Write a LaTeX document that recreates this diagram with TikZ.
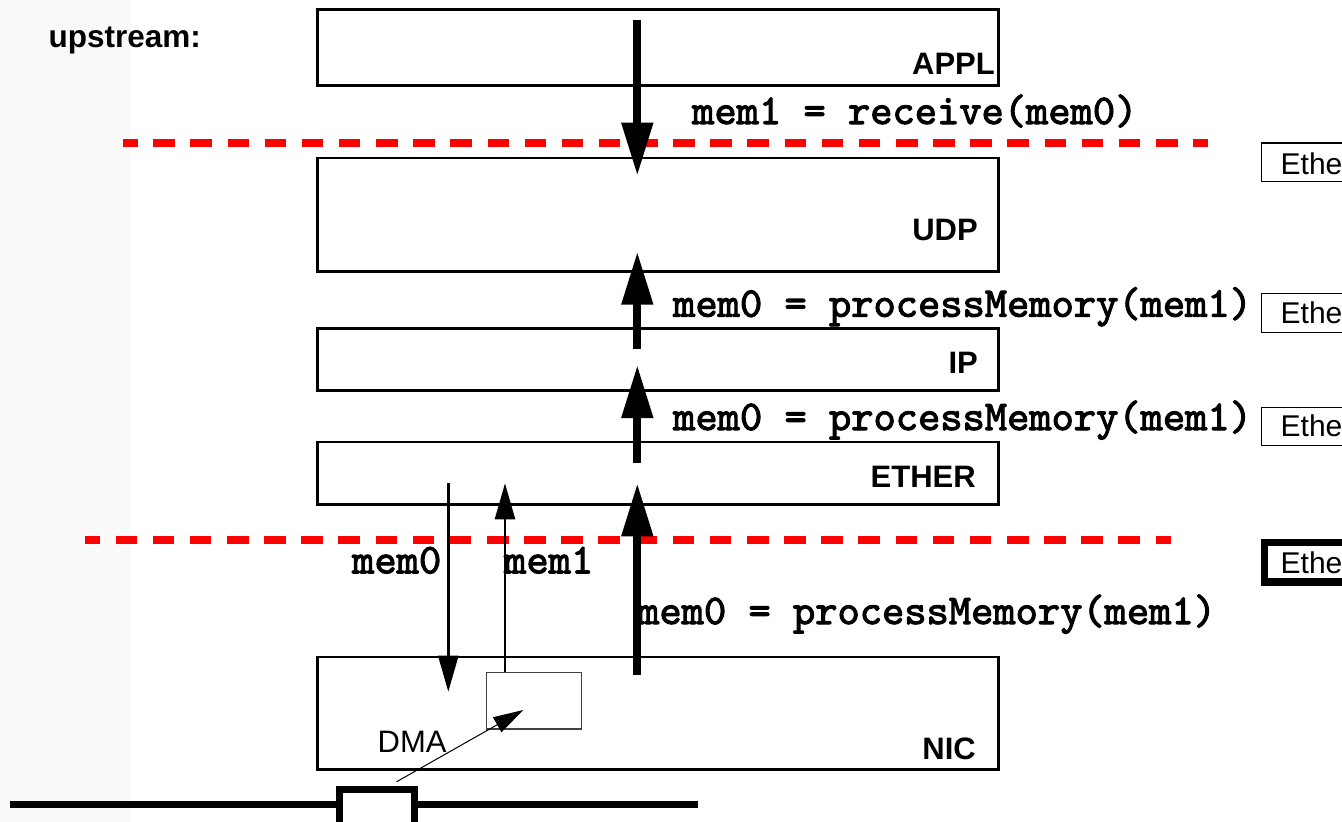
\documentclass[tikz,border=0pt]{standalone}
\usepackage{fontspec}
\setmainfont{Liberation Sans}
\newfontfamily\monob{lmmono10-regular.otf}[FakeBold=2.5]
\usetikzlibrary{arrows.meta}
\definecolor{strip}{RGB}{249,249,249}
\definecolor{redline}{RGB}{255,0,0}
\tikzset{
  layer/.style={draw=black, line width=2.5pt, fill=none, minimum width=681pt, anchor=north west, inner sep=0pt},
  lbl/.style={font=\fontsize{31}{36}\selectfont\bfseries, inner sep=0pt, anchor=base east},
  code/.style={font=\fontsize{42.4}{48}\selectfont\monob, inner sep=0pt, anchor=base west},
  plain/.style={font=\fontsize{31}{36}\selectfont, inner sep=0pt, anchor=base west},
  ethtext/.style={font=\fontsize{30}{34}\selectfont, inner sep=0pt, anchor=base west},
  ethbox/.style={draw=black, line width=1.2pt, minimum width=140pt, anchor=north west, inner sep=0pt},
  bigarrow/.style={line width=8pt, -{Triangle[length=53pt,width=30pt]}},
  thinarrow/.style={line width=2.5pt, -{Triangle[length=36pt,width=20pt]}},
  dmaarrow/.style={line width=1pt, -{Triangle[length=30pt,width=17pt]}},
  cut/.style={redline, line width=8pt, dash pattern=on 21.5pt off 15.64pt},
}
\begin{document}
\begin{tikzpicture}[x=1pt, y=-1pt]
\useasboundingbox (0,0) rectangle (1342,822);
\fill[strip] (0,0) rectangle (131,822);

% layer boxes
\node[layer, minimum height=75.7pt] (appl) at (316,8.3) {};
\node[layer, minimum height=113.3pt] (udp) at (316,156.7) {};
\node[layer, minimum height=62pt] (ip) at (316,327.3) {};
\node[layer, minimum height=62.3pt] (ether) at (316,440.7) {};
\node[layer, minimum height=112.6pt] (nic) at (316,655.7) {};

\node[lbl] (applL) at (995,74) {APPL};
\node[lbl] (udpL) at (978,240.5) {UDP};
\node[lbl] (ipL) at (978,373.5) {IP};
\node[lbl] (etherL) at (976,487) {ETHER};
\node[lbl] (nicL) at (976,759) {NIC};

\node[font=\fontsize{31.5}{36}\selectfont\bfseries, inner sep=0pt, anchor=base west] (up) at (48.5,47.5) {upstream:};

% red cut lines
\draw[cut, dash phase=7.2pt] (123.3,142.5) -- (1208.3,142.5);
\draw[cut, dash phase=6.5pt] (85,539.5) -- (1170.7,539.5);

% code labels
\node[code] (c0) at (692,124) {mem1 = receive(mem0)};
\node[code] (c1) at (673,316.7) {mem0 = processMemory(mem1)};
\node[code] (c2) at (673,430) {mem0 = processMemory(mem1)};
\node[code] (c3) at (637,624) {mem0 = processMemory(mem1)};
\node[code] (m0) at (352,573.3) {mem0};
\node[code] (m1) at (504,573.3) {mem1};

% thick arrows
\coordinate (d0) at (637.3,20);
\coordinate (d1) at (637.3,175.7);
\coordinate (u1a) at (637.3,349);
\coordinate (u1b) at (637.3,251.7);
\coordinate (u2a) at (637.3,462.7);
\coordinate (u2b) at (637.3,365);
\coordinate (u3a) at (637.3,675);
\coordinate (u3b) at (637.3,483.3);
\draw[bigarrow] (d0) -- (d1);
\draw[bigarrow] (u1a) -- (u1b);
\draw[bigarrow] (u2a) -- (u2b);
\draw[bigarrow] (u3a) -- (u3b);

% DMA buffer
\node[draw=black!75, line width=1.2pt, fill=white, minimum width=95pt, minimum height=56.6pt, anchor=north west, inner sep=0pt] (buf) at (486,671.7) {};

% thin arrows
\coordinate (t0a) at (448.3,483.3);
\coordinate (t0b) at (448.3,691.7);
\coordinate (t1b) at (505,483.3);
\draw[thinarrow] (t0a) -- (t0b);
\draw[thinarrow] (buf.north west -| t1b) -- (t1b);

\node[plain] (dma) at (377.5,752) {DMA};

% network line and connector
\coordinate (netL) at (10,804.5);
\coordinate (netR) at (698,804.5);
\draw[line width=7.7pt] (netL) -- (netR);
\node[draw=black, line width=7.5pt, fill=white, minimum width=75pt, minimum height=41pt, anchor=north west, inner sep=0pt] (port) at (335.5,785.5) {};
\coordinate (dmaS) at (396.7,781.7);
\coordinate (dmaT) at (523.3,710);
\draw[dmaarrow] (dmaS) -- (dmaT);

% Ether boxes at right edge
\node[ethbox, minimum height=38.4pt] (e1) at (1260.7,142.3) {};
\node[ethbox, minimum height=38.7pt] (e2) at (1260.7,293) {};
\node[ethbox, minimum height=38.3pt] (e3) at (1260.7,406.7) {};
\node[draw=black, line width=7.5pt, minimum width=140pt, minimum height=39.2pt, anchor=north west, inner sep=0pt] (e4) at (1260.8,538.8) {};
\node[ethtext] (e1t) at (1280.5,174) {Ethe};
\node[ethtext] (e2t) at (1280.5,323.3) {Ethe};
\node[ethtext] (e3t) at (1280.5,436.7) {Ethe};
\node[ethtext] (e4t) at (1280.5,573.3) {Ethe};
\end{tikzpicture}
\end{document}
